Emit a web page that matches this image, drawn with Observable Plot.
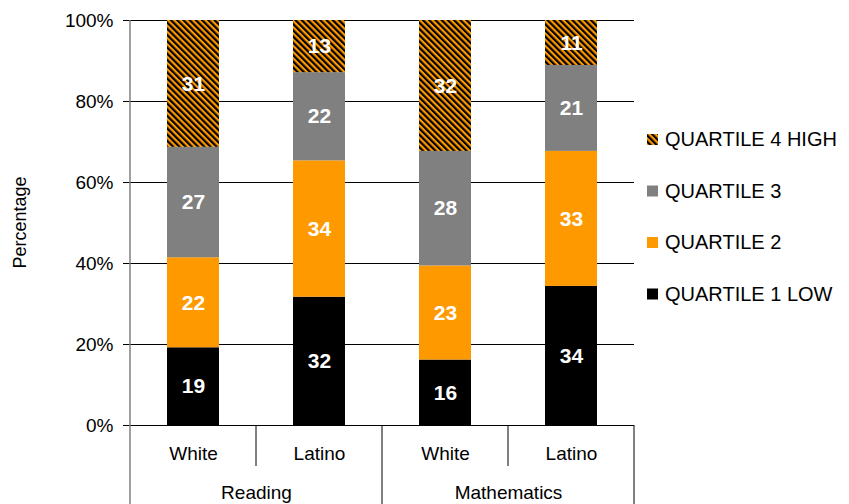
<!DOCTYPE html>
<html><head><meta charset="utf-8">
<script src="https://cdn.jsdelivr.net/npm/d3@7"></script>
<script src="https://cdn.jsdelivr.net/npm/@observablehq/plot@0.6"></script>
<style>
body{margin:0;background:#fff}
svg{font-family:"Liberation Sans",Arial,sans-serif}
</style>
</head><body><div id="chart"></div>
<script>
const subjects = ["Reading", "Mathematics"];
const races = ["White", "Latino"];
const quartiles = ["QUARTILE 1 LOW", "QUARTILE 2", "QUARTILE 3", "QUARTILE 4 HIGH"];
const q1 = [19, 32, 16, 34];
const q2 = [22, 34, 23, 33];
const q3 = [27, 22, 28, 21];
const q4 = [31, 13, 32, 11];
const colors = ["#000000", "#ff9900", "#808080", "url(#hatch)"];
const yTicks = [0, 0.2, 0.4, 0.6, 0.8, 1];
const legendOrder = ["QUARTILE 4 HIGH", "QUARTILE 3", "QUARTILE 2", "QUARTILE 1 LOW"];

const series = [q1, q2, q3, q4];
const data = [];
for (let i = 0; i < 4; i++) {
  for (let q = 0; q < 4; q++) {
    data.push({subject: subjects[Math.floor(i / 2)], race: races[i % 2], quartile: quartiles[q], value: series[q][i]});
  }
}

const stackOpts = {fx: "subject", x: "race", y: "value", z: "quartile", offset: "normalize", order: quartiles};

const plot = Plot.plot({
  width: 849, height: 504,
  marginLeft: 130, marginRight: 215, marginTop: 20, marginBottom: 79,
  style: {fontSize: "19px", fontFamily: "'Liberation Sans', Arial, sans-serif", color: "#000"},
  fx: {domain: subjects, padding: 0, label: null, axis: null},
  x: {domain: races, paddingInner: 0.587, paddingOuter: 0.2935, label: null, axis: null},
  y: {domain: [0, 1], label: null, axis: null},
  color: {domain: quartiles, range: colors},
  marks: [
    Plot.ruleY(yTicks.slice(1), {stroke: "#000", strokeWidth: 1}),
    Plot.barY(data, Plot.stackY({...stackOpts, fill: "quartile"})),
    Plot.text(data, Plot.stackY({...stackOpts, text: "value", fill: "white", fontWeight: "bold", fontSize: 21})),
    Plot.ruleY([0], {stroke: "#000", strokeWidth: 1}),
    Plot.axisY({anchor: "left", ticks: yTicks, tickFormat: d3.format(".0%"), tickSize: 7, tickPadding: 10, label: null, stroke: "#000"}),
    Plot.axisX({anchor: "bottom", tickSize: 0, tickPadding: 21, label: null}),
    Plot.axisFx({anchor: "bottom", tickSize: 0, tickPadding: 60, label: null})
  ]
});

document.getElementById("chart").appendChild(plot);

const svg = d3.select(plot);
const defs = svg.insert("defs", ":first-child");
const pat = defs.append("pattern")
  .attr("id", "hatch").attr("patternUnits", "userSpaceOnUse")
  .attr("width", 4.4).attr("height", 4.4)
  .attr("patternTransform", "rotate(-45)");
pat.append("rect").attr("width", 4.4).attr("height", 4.4).attr("fill", "#ff9900");
pat.append("rect").attr("width", 2.2).attr("height", 4.4).attr("fill", "#000");

const fx = plot.scale("fx");
const ys = plot.scale("y");
const y0 = ys.apply(0), y1 = ys.apply(1);
const H = 504;
const g = svg.append("g");
// left axis line
const left = fx.apply(subjects[0]);
g.append("line").attr("x1", left).attr("x2", left).attr("y1", y1).attr("y2", H).attr("stroke", "#808080").attr("stroke-width", 1.5);
subjects.forEach(s => {
  const a = fx.apply(s), b = a + fx.bandwidth, m = a + fx.bandwidth / 2;
  g.append("line").attr("x1", b).attr("x2", b).attr("y1", y0).attr("y2", H).attr("stroke", "#000");
  g.append("line").attr("x1", m).attr("x2", m).attr("y1", y0).attr("y2", y0 + 41).attr("stroke", "#000");
});

// y label
svg.append("text").attr("transform", `translate(26,${(y0 + y1) / 2}) rotate(-90)`)
  .attr("text-anchor", "middle").attr("font-size", 18)
  .attr("fill", "#000").text("Percentage");

// legend
const lg = svg.append("g").attr("font-size", 20).attr("text-anchor", "start");
const color = plot.scale("color");
legendOrder.forEach((q, i) => {
  const cy = 139 + i * 51.5;
  lg.append("rect").attr("x", 647).attr("y", cy - 5).attr("width", 11).attr("height", 11).attr("fill", color.apply(q));
  lg.append("text").attr("x", 665).attr("y", cy).attr("dy", "0.35em").attr("fill", "#000").text(q);
});
</script>
</body></html>
